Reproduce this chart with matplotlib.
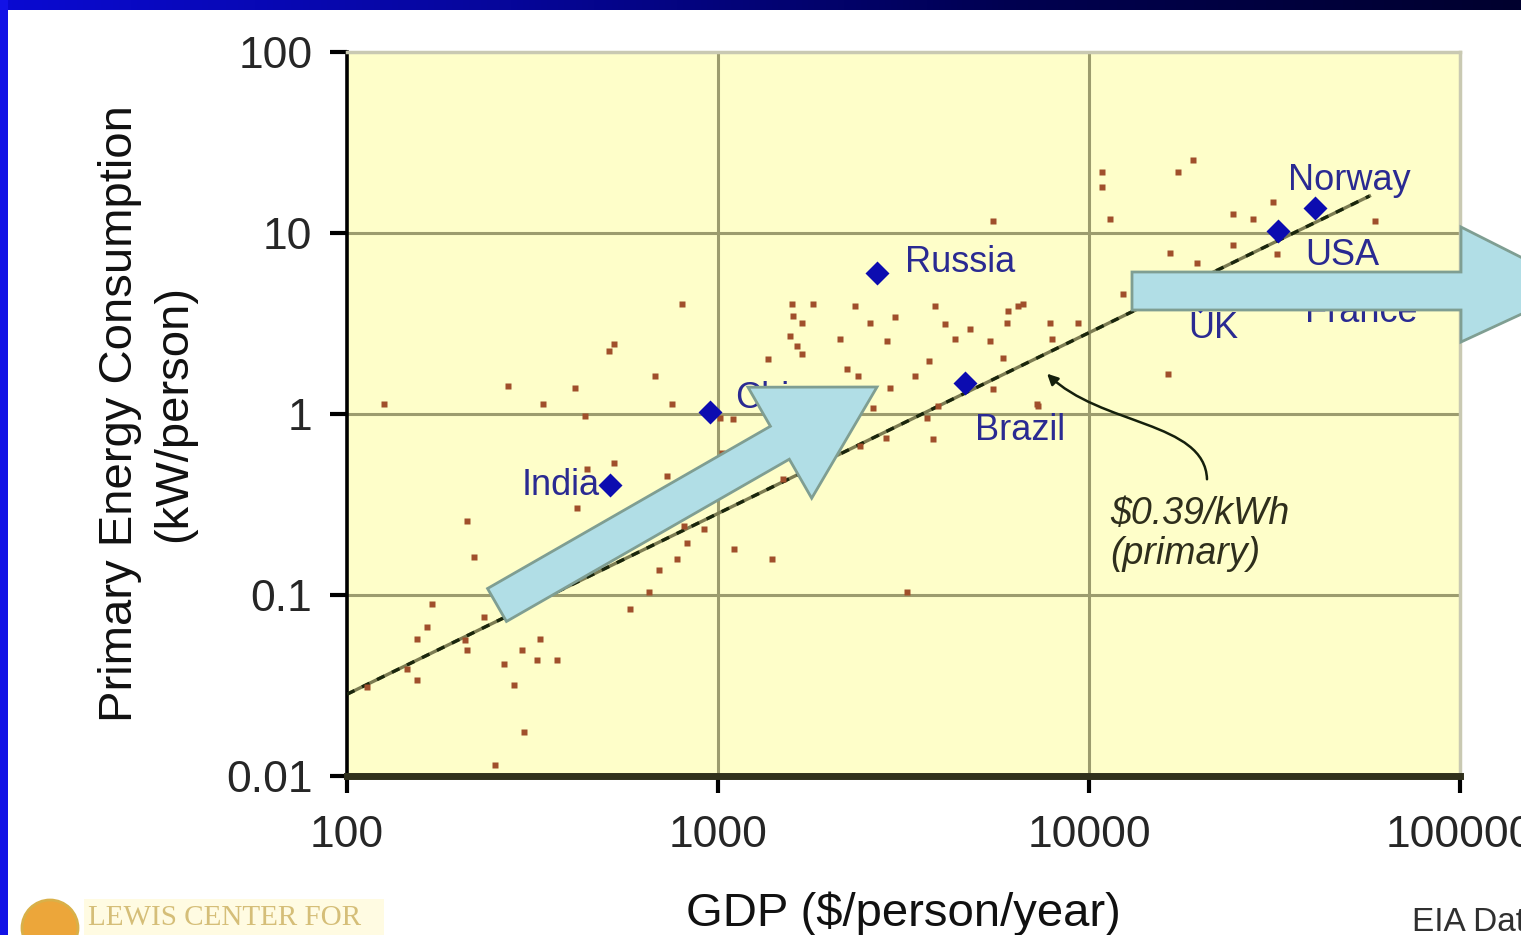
import numpy as np
import matplotlib
matplotlib.use("Agg")
import matplotlib.pyplot as plt
from matplotlib.patches import Polygon, Rectangle, Circle, FancyArrowPatch
from matplotlib.path import Path
from matplotlib.transforms import IdentityTransform
from matplotlib.colors import LinearSegmentedColormap

plt.rcParams['font.family'] = ['Liberation Sans', 'DejaVu Sans']

# ---------------- data ----------------
red_gdp = [676, 272, 412, 126, 337, 752, 438, 1012, 1025, 525, 443, 729, 417, 210, 809,
           916, 825, 1105, 774, 220, 693, 652, 169, 579, 234, 164, 154, 208, 331, 296,
           210, 265, 325, 368, 154, 282, 145, 113, 300, 251, 525, 508, 800,
           1583, 1803, 2339, 3846, 6440, 6056, 1592, 1684, 2570, 3000, 4090, 4777, 6015,
           1563, 1633, 1684, 2133, 2855, 4355, 5410, 1364, 3706, 5860, 2228, 2384, 3396,
           2908, 5508, 3917, 2617, 1098, 7287, 3656, 2838, 3797, 2415, 1496, 1398, 3228,
           19050, 17380, 10840, 10840, 11400, 24420, 27660, 31330, 59000, 24420, 16520,
           19540, 32140, 12350, 7855, 9330, 7940, 16330, 7240, 6640, 5508]
red_energy = [1.62, 1.43, 1.39, 1.14, 1.14, 1.14, 0.975, 0.95, 0.608, 0.536, 0.496, 0.454,
              0.301, 0.255, 0.240, 0.233, 0.193, 0.179, 0.159, 0.163, 0.138, 0.104, 0.0897,
              0.0832, 0.0760, 0.0669, 0.0574, 0.0567, 0.0574, 0.0499, 0.0499, 0.0417, 0.0440,
              0.0440, 0.0340, 0.0319, 0.0392, 0.0311, 0.0175, 0.0115, 2.44, 2.23, 4.07,
              4.07, 4.07, 3.96, 3.96, 3.96, 3.72, 3.49, 3.19, 3.19, 3.44, 3.15, 2.96, 3.19,
              2.70, 2.38, 2.15, 2.60, 2.53, 2.60, 2.53, 2.02, 1.97, 2.04, 1.77, 1.62, 1.62,
              1.39, 1.38, 1.11, 1.08, 0.937, 1.11, 0.95, 0.736, 0.727, 0.665, 0.436, 0.159, 0.104,
              25.2, 21.6, 21.6, 17.9, 12.0, 12.8, 12.0, 14.8, 11.6, 8.53, 7.80,
              6.87, 7.69, 4.63, 3.19, 3.19, 2.60, 1.67, 1.14, 4.07, 11.7]

countries = ['India', 'China', 'Russia', 'Brazil', 'UK', 'France', 'USA', 'Norway']
country_gdp = [512, 951, 2683, 4634, 19900, 34800, 32280, 40640]
country_energy = [0.405, 1.03, 6.04, 1.49, 4.23, 4.5, 10.3, 13.7]

trend_gdp = [100, 57000]
trend_energy = [0.0283, 16.0]

x_ticks = [100, 1000, 10000, 100000]
x_ticklabels = ['100', '1000', '10000', '100000']
y_ticks = [0.01, 0.1, 1, 10, 100]
y_ticklabels = ['0.01', '0.1', '1', '10', '100']

annot_text = '\\$0.39/kWh\n(primary)'
annot_tip = (7710, 1.67)
annot_start = (20800, 0.436)
annot_text_pos = (11400, 0.352)

# ---------------- figure ----------------
W, H = 1521, 935
fig = plt.figure(figsize=(W / 100, H / 100), dpi=100)
fig.patch.set_facecolor('white')

ax = fig.add_axes([347 / W, 1 - 776 / H, (1460 - 347) / W, (776 - 52) / H])
ax.set_facecolor('#fefec9')
ax.set_xscale('log')
ax.set_yscale('log')
ax.set_xlim(100, 100000)
ax.set_ylim(0.01, 100)

grid_col = '#9c9c6e'
for v in y_ticks[1:-1]:
    ax.axhline(v, color=grid_col, lw=2.2, zorder=1)
for v in x_ticks[1:-1]:
    ax.axvline(v, color=grid_col, lw=2.2, zorder=1)

ax.spines['top'].set_color('#c9c9b2')
ax.spines['top'].set_linewidth(2.5)
ax.spines['right'].set_color('#c9c9b2')
ax.spines['right'].set_linewidth(2.5)
ax.spines['left'].set_color('black')
ax.spines['left'].set_linewidth(2.6)
ax.spines['bottom'].set_color('#30301c')
ax.spines['bottom'].set_linewidth(5)

ax.set_xticks(x_ticks)
ax.set_xticklabels(x_ticklabels)
ax.set_yticks(y_ticks)
ax.set_yticklabels(y_ticklabels)
ax.minorticks_off()
ax.tick_params(axis='both', which='major', direction='out', length=12, width=3,
               color='black', labelsize=32, labelcolor='#262626')
ax.tick_params(axis='x', pad=16)
ax.tick_params(axis='y', pad=13)

# trend line
ax.plot(trend_gdp, trend_energy, color='#7c7c52', lw=2.4, zorder=2.5)
ax.plot(trend_gdp, trend_energy, color='#1a260c', lw=2.4, dashes=(2.5, 2.5), zorder=2.6)

# scatter
ax.plot(red_gdp, red_energy, ls='none', marker='s', ms=4.6, color='#a04f2b',
        mec='none', zorder=3)

# countries
ax.plot(country_gdp, country_energy, ls='none', marker='D', ms=12, color='#0c0cb0',
        mec='none', zorder=3.2)
label_offsets = {'India': (-10, 0, 'right'), 'China': (25, 13, 'left'),
                 'Russia': (28, 10, 'left'), 'Brazil': (10, -48, 'left'),
                 'UK': (-12, -28, 'left'), 'France': (15, -17, 'left'),
                 'USA': (27, -25, 'left'), 'Norway': (-27, 28, 'left')}
for name, gx, ey in zip(countries, country_gdp, country_energy):
    dx, dy, ha = label_offsets[name]
    ax.annotate(name, (gx, ey), xytext=(dx, dy), textcoords='offset pixels',
                ha=ha, va='center', fontsize=26, color='#2a2a92', zorder=3.5)

# annotation text & curved arrow
ax.text(annot_text_pos[0], annot_text_pos[1], annot_text, fontsize=27, style='italic',
        color='#2e2e1c', ha='left', va='top', linespacing=1.15, zorder=3)

fig.canvas.draw()
p0 = ax.transData.transform(annot_start)
p3 = ax.transData.transform(annot_tip)
p1 = p0 + np.array([-2, 58])
p2 = p3 + np.array([53, -52])
path = Path([p0, p1, p2, p3], [Path.MOVETO, Path.CURVE4, Path.CURVE4, Path.CURVE4])
arr = FancyArrowPatch(path=path, arrowstyle='-|>', mutation_scale=16, lw=1.8,
                      color='#15200c', transform=IdentityTransform(), zorder=3.3)
ax.add_artist(arr)

# axis labels
ax.set_xlabel('GDP (\\$/person/year)', fontsize=34, color='#111111')
ax.xaxis.set_label_coords(0.5, (776 - 891) / 724)
ax.set_ylabel('Primary Energy Consumption\n(kW/person)', fontsize=34, color='#111111',
              linespacing=1.3)
ax.yaxis.set_label_coords((196 - 347) / 1113, 0.5)


# ---------------- block arrows (figure level, above axes) ----------------
def px(pts):
    return [(x / 100.0, (H - y) / 100.0) for x, y in pts]

arrow_face = '#b1dee6'
arrow_edge = '#7f9e92'

T = np.array([497.0, 605.0])
P = np.array([877.0, 387.0])
u = (P - T) / np.linalg.norm(P - T)
n = np.array([-u[1], u[0]])
B = P - 112 * u
diag = [T + 19 * n, B + 19 * n, B + 64 * n, P, B - 64 * n, B - 19 * n, T - 19 * n]
fig.add_artist(Polygon(px(diag), closed=True, transform=fig.dpi_scale_trans,
                       facecolor=arrow_face, edgecolor=arrow_edge, lw=2, zorder=5))

horiz = [(1132, 272), (1461, 272), (1461, 227), (1580, 287), (1461, 342), (1461, 310),
         (1132, 310)]
fig.add_artist(Polygon(px(horiz), closed=True, transform=fig.dpi_scale_trans,
                       facecolor=arrow_face, edgecolor=arrow_edge, lw=2, zorder=5))

# ---------------- frame & footer ----------------
fig.add_artist(Rectangle((0, 0), 8 / W, 1, transform=fig.transFigure,
                         facecolor='#1212e6', edgecolor='none', zorder=6))
top_ax = fig.add_axes([0, 1 - 10 / H, 1, 10 / H])
grad = np.linspace(0, 1, 256)[None, :]
cm = LinearSegmentedColormap.from_list('b', ['#0a0ad2', '#06069a', '#000050', '#00002e'])
top_ax.imshow(grad, aspect='auto', cmap=cm, extent=(0, 1, 0, 1))
top_ax.set_axis_off()

fig.add_artist(Rectangle((84 / W, 0), 300 / W, 36 / H, transform=fig.transFigure,
                         facecolor='#fffbe2', edgecolor='none', zorder=1))
fig.add_artist(Circle((50 / 100, (H - 928) / 100), 0.28, transform=fig.dpi_scale_trans,
                      facecolor='#eca63a', edgecolor='#d9b048', lw=2, zorder=2))
fig.text(88 / W, 1 - 918 / H, 'LEWIS CENTER FOR', fontsize=21, color='#d5be78',
         family=['Liberation Serif', 'DejaVu Serif'], ha='left', va='center')
fig.text(1412 / W, 1 - 938 / H, 'EIA Data', fontsize=24, color='#303030',
         ha='left', va='bottom')

fig.savefig('out.png', dpi=100, facecolor='white')
